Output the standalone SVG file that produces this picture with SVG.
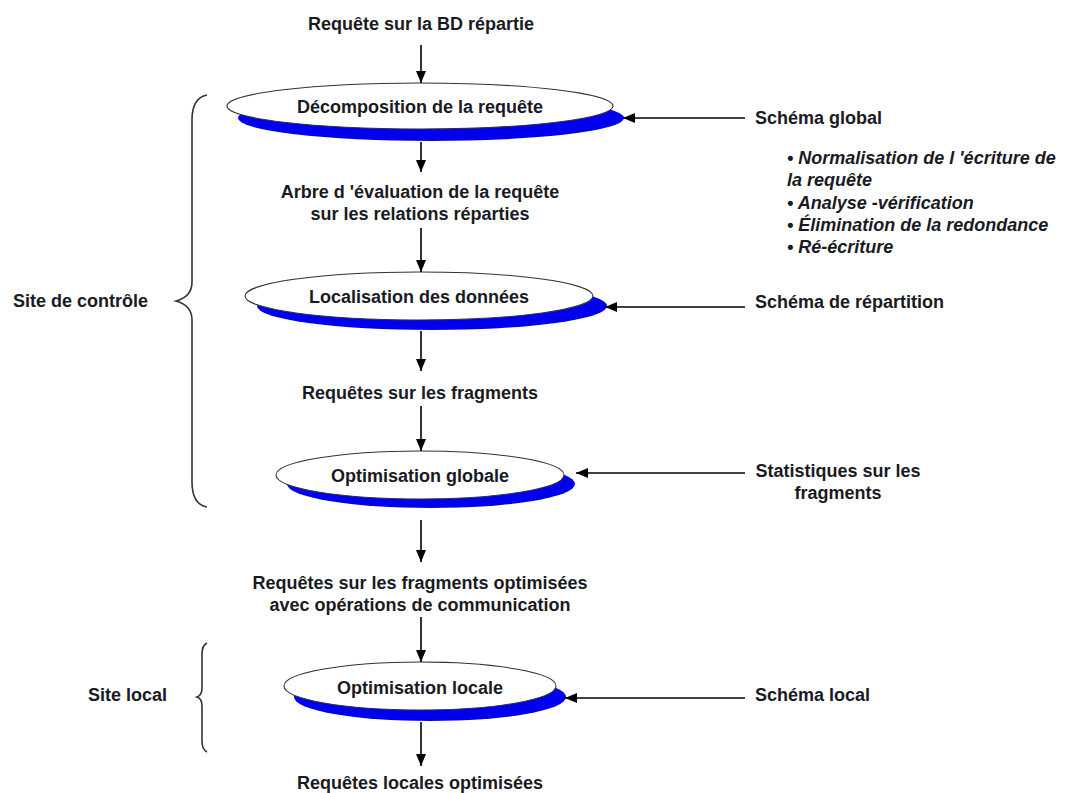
<svg xmlns="http://www.w3.org/2000/svg" width="1070" height="793" viewBox="0 0 1070 793">
  <style>
    text { font-family: "Liberation Sans", Arial, sans-serif; font-size: 18px; font-weight: bold; fill: #1a1a24; }
    .c { text-anchor: middle; }
    .it { font-style: italic; }
    .shadow { fill: #0000ee; }
    .disc { fill: #ffffff; stroke: #333; stroke-width: 1.1; }
    .edge { stroke: #000; stroke-width: 1.6; fill: none; }
    .brace { stroke: #333; stroke-width: 1.6; fill: none; }
  </style>
  <defs>
    <marker id="head" viewBox="0 0 12 10" refX="12" refY="5" markerWidth="12" markerHeight="10" markerUnits="userSpaceOnUse" orient="auto">
      <path d="M0,0 L12,5 L0,10 Z" fill="#000"/>
    </marker>
  </defs>

  <rect width="1070" height="793" fill="#ffffff"/>

  <!-- process steps -->
  <g id="decomposition">
    <ellipse class="shadow" cx="431" cy="118" rx="193" ry="23"/>
    <ellipse class="disc" cx="420" cy="106" rx="193" ry="23"/>
    <text class="c" x="420" y="113">Décomposition de la requête</text>
  </g>
  <g id="localisation">
    <ellipse class="shadow" cx="432" cy="306" rx="175" ry="24"/>
    <ellipse class="disc" cx="419" cy="296" rx="174" ry="24"/>
    <text class="c" x="419" y="303">Localisation des données</text>
  </g>
  <g id="optimisation-globale">
    <ellipse class="shadow" cx="431" cy="484" rx="144" ry="24"/>
    <ellipse class="disc" cx="420" cy="475" rx="144" ry="24"/>
    <text class="c" x="420" y="482">Optimisation globale</text>
  </g>
  <g id="optimisation-locale">
    <ellipse class="shadow" cx="430" cy="697" rx="136" ry="24"/>
    <ellipse class="disc" cx="420" cy="686" rx="136" ry="24"/>
    <text class="c" x="420" y="694">Optimisation locale</text>
  </g>

  <!-- intermediate results -->
  <g id="requete-bd">
    <text class="c" x="421" y="30">Requête sur la BD répartie</text>
  </g>
  <g id="arbre-evaluation">
    <text class="c" x="420" y="198">Arbre d 'évaluation de la requête</text>
    <text class="c" x="420" y="220">sur les relations réparties</text>
  </g>
  <g id="requetes-fragments">
    <text class="c" x="420" y="399">Requêtes sur les fragments</text>
  </g>
  <g id="requetes-optimisees">
    <text class="c" x="420" y="589">Requêtes sur les fragments optimisées</text>
    <text class="c" x="420" y="611">avec opérations de communication</text>
  </g>
  <g id="requetes-locales">
    <text class="c" x="420" y="789">Requêtes locales optimisées</text>
  </g>

  <!-- external inputs -->
  <g id="schema-global">
    <text x="755" y="124">Schéma global</text>
  </g>
  <g id="etapes-decomposition">
    <text class="it" x="787" y="164">• Normalisation de l 'écriture de</text>
    <text class="it" x="787" y="186">la requête</text>
    <text class="it" x="787" y="209">• Analyse -vérification</text>
    <text class="it" x="787" y="231">• Élimination de la redondance</text>
    <text class="it" x="787" y="253">• Ré-écriture</text>
  </g>
  <g id="schema-repartition">
    <text x="755" y="308">Schéma de répartition</text>
  </g>
  <g id="statistiques">
    <text class="c" x="838" y="477">Statistiques sur les</text>
    <text class="c" x="838" y="499">fragments</text>
  </g>
  <g id="schema-local">
    <text x="755" y="701">Schéma local</text>
  </g>

  <!-- site groupings -->
  <g id="site-controle">
    <path class="brace" d="M207,95 C196,97 192,106 192,120 L192,282 C192,292 187,298 176,301 C187,304 192,310 192,320 L192,482 C192,496 196,505 207,507"/>
    <text x="13" y="307">Site de contrôle</text>
  </g>
  <g id="site-local">
    <path class="brace" d="M207,643 C203,645 202,648 202,654 L202,688 C202,693 200,696 197,697 C200,698 202,701 202,706 L202,741 C202,747 203,750 207,752"/>
    <text x="88" y="701">Site local</text>
  </g>

  <!-- connectors -->
  <g id="connectors">
    <line class="edge" x1="421" y1="45" x2="421" y2="83" marker-end="url(#head)"/>
    <line class="edge" x1="421" y1="142" x2="421" y2="172" marker-end="url(#head)"/>
    <line class="edge" x1="421" y1="228" x2="421" y2="272" marker-end="url(#head)"/>
    <line class="edge" x1="421" y1="331" x2="421" y2="371" marker-end="url(#head)"/>
    <line class="edge" x1="421" y1="406" x2="421" y2="451" marker-end="url(#head)"/>
    <line class="edge" x1="421" y1="520" x2="421" y2="562" marker-end="url(#head)"/>
    <line class="edge" x1="421" y1="617" x2="421" y2="662" marker-end="url(#head)"/>
    <line class="edge" x1="421" y1="722" x2="421" y2="766" marker-end="url(#head)"/>
    <line class="edge" x1="745" y1="118" x2="623" y2="118" marker-end="url(#head)"/>
    <line class="edge" x1="745" y1="307" x2="605" y2="307" marker-end="url(#head)"/>
    <line class="edge" x1="745" y1="473" x2="576" y2="473" marker-end="url(#head)"/>
    <line class="edge" x1="745" y1="698" x2="565" y2="698" marker-end="url(#head)"/>
  </g>
</svg>
